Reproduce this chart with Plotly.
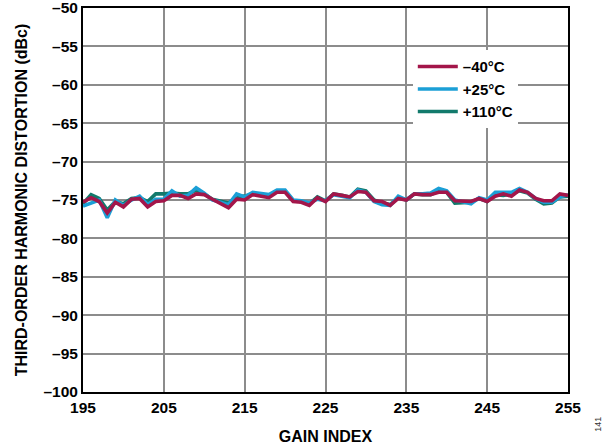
import plotly.graph_objects as go

gain_index = list(range(195, 256))

thd_m40 = [-75.3, -74.7, -75.2, -76.7, -75.3, -75.9, -74.9, -74.8, -75.9, -75.2,
           -75.1, -74.4, -74.4, -74.8, -74.2, -74.3, -74.9, -75.4, -76.0, -74.9,
           -75.0, -74.3, -74.5, -74.7, -74.0, -74.0, -75.2, -75.3, -75.7, -74.7,
           -75.2, -74.2, -74.4, -74.6, -73.9, -74.0, -75.1, -75.2, -75.7, -74.8,
           -75.0, -74.2, -74.3, -74.3, -74.0, -74.0, -75.1, -75.2, -75.2, -74.8,
           -75.2, -74.5, -74.2, -74.5, -73.7, -74.0, -74.8, -75.1, -75.1, -74.2,
           -74.4]
thd_p25 = [-75.8, -75.4, -75.0, -77.3, -75.0, -75.7, -75.0, -74.5, -75.6, -74.9,
           -74.9, -73.8, -74.5, -74.4, -73.4, -74.1, -75.0, -75.3, -75.6, -74.2,
           -74.6, -74.0, -74.1, -74.3, -73.7, -73.7, -75.0, -75.1, -75.4, -74.9,
           -75.1, -74.3, -74.5, -74.7, -73.7, -74.0, -75.2, -75.6, -75.7, -74.5,
           -75.0, -74.2, -74.2, -74.1, -73.5, -73.8, -75.0, -75.2, -75.5, -74.7,
           -75.0, -74.0, -74.0, -74.0, -73.5, -74.0, -74.8, -75.3, -75.3, -74.6,
           -74.3]
thd_p110 = [-75.5, -74.3, -74.8, -76.3, -75.2, -75.5, -74.8, -74.7, -75.2, -74.2,
            -74.2, -74.1, -74.2, -74.2, -73.7, -74.2, -74.9, -75.2, -75.4, -74.6,
            -74.5, -74.2, -74.3, -74.5, -73.9, -73.9, -75.1, -75.2, -75.5, -74.6,
            -75.1, -74.2, -74.4, -74.6, -73.6, -73.8, -75.0, -75.4, -75.6, -74.7,
            -75.0, -74.2, -74.3, -74.3, -73.8, -74.0, -75.4, -75.3, -75.3, -74.8,
            -75.2, -74.3, -74.4, -74.2, -73.8, -74.1, -74.9, -75.5, -75.4, -74.6,
            -74.5]

x_ticks = [195, 205, 215, 225, 235, 245, 255]
y_ticks = [-50, -55, -60, -65, -70, -75, -80, -85, -90, -95, -100]
y_tick_text = ["\u2013" + str(-v) for v in y_ticks]

FONT = "Liberation Sans, Arial, sans-serif"

fig = go.Figure()
fig.add_trace(go.Scatter(x=gain_index, y=thd_p110, mode="lines", name="<b>+110°C</b>",
                         line=dict(color="#127a6c", width=3.6)))
fig.add_trace(go.Scatter(x=gain_index, y=thd_p25, mode="lines", name="<b>+25°C</b>",
                         line=dict(color="#1b9fd6", width=3.6)))
fig.add_trace(go.Scatter(x=gain_index, y=thd_m40, mode="lines", name="<b>\u201340°C</b>",
                         line=dict(color="#a3164a", width=3.6)))

fig.update_layout(
    width=605, height=448,
    margin=dict(l=83, r=37, t=8, b=56, autoexpand=False),
    paper_bgcolor="white", plot_bgcolor="white",
    font=dict(family=FONT, size=15.5, color="black"),
    showlegend=True,
    legend=dict(x=0.68, y=0.89, xanchor="left", yanchor="top",
                traceorder="reversed", bgcolor="white",
                font=dict(size=15, family=FONT), itemwidth=40,
                entrywidth=120, entrywidthmode="pixels",
                tracegroupgap=0),
    xaxis=dict(range=[195, 255], tickvals=x_ticks,
               ticktext=["<b>%d</b>" % v for v in x_ticks],
               tickfont=dict(size=15.5), ticklabeloverflow="allow",
               showgrid=True, gridcolor="#8c8c8c", gridwidth=1.5,
               showline=True, linecolor="black", linewidth=2, mirror=True,
               ticks="", zeroline=False, automargin=False,
               title=dict(text="<b>GAIN INDEX</b>", font=dict(size=16), standoff=16)),
    yaxis=dict(range=[-100, -50], tickvals=y_ticks,
               ticktext=["<b>%s</b>" % t for t in y_tick_text],
               tickfont=dict(size=15.5), ticklabeloverflow="allow",
               showgrid=True, gridcolor="#8c8c8c", gridwidth=1.5,
               showline=True, linecolor="black", linewidth=2, mirror=True,
               ticks="", zeroline=False, automargin=False,
               title=dict(text="<b>THIRD-ORDER HARMONIC DISTORTION (dBc)</b>",
                          font=dict(size=16), standoff=12)),
)

fig.add_annotation(text="141", x=1.062, y=-0.085, xref="paper", yref="paper",
                   xanchor="center", yanchor="middle",
                   showarrow=False, textangle=-90, font=dict(size=9, color="#333"))

fig.write_html("out.html", config={"displayModeBar": False},
               post_script="document.body.style.margin='0';")
